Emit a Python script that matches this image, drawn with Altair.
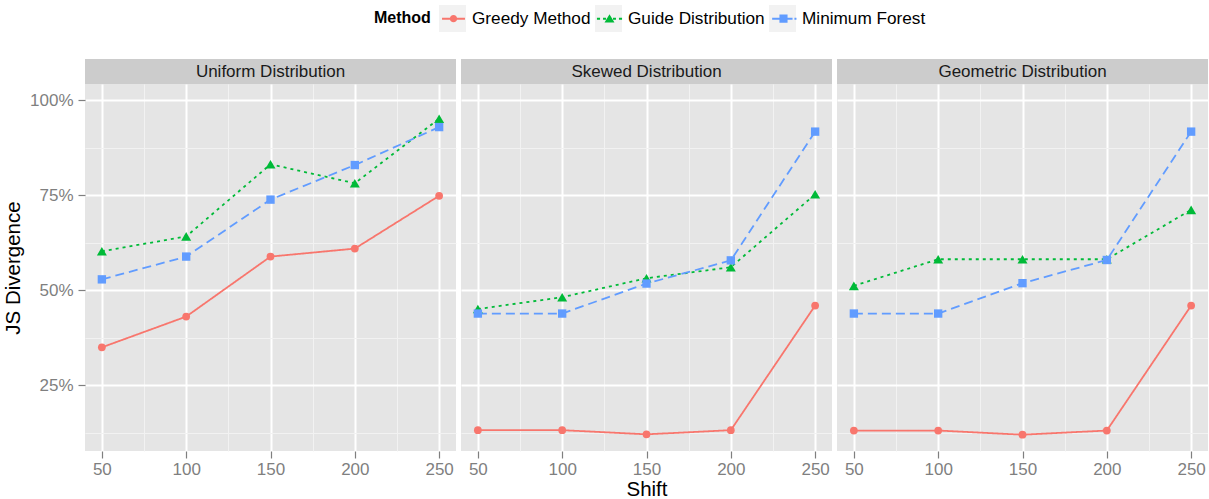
import altair as alt
import pandas as pd

shifts = [50, 100, 150, 200, 250]
methods = ["Greedy Method", "Guide Distribution", "Minimum Forest"]
panels = ["Uniform Distribution", "Skewed Distribution", "Geometric Distribution"]

uniform_greedy = [0.350, 0.431, 0.589, 0.610, 0.749]
uniform_guide = [0.603, 0.642, 0.832, 0.782, 0.952]
uniform_forest = [0.529, 0.589, 0.739, 0.830, 0.930]
skewed_greedy = [0.132, 0.132, 0.121, 0.132, 0.460]
skewed_guide = [0.451, 0.482, 0.532, 0.561, 0.753]
skewed_forest = [0.439, 0.439, 0.518, 0.579, 0.918]
geometric_greedy = [0.131, 0.131, 0.120, 0.131, 0.460]
geometric_guide = [0.512, 0.582, 0.582, 0.582, 0.712]
geometric_forest = [0.439, 0.439, 0.519, 0.580, 0.918]

x_major = [50, 100, 150, 200, 250]
x_minor = [75, 125, 175, 225]
y_major = [0.25, 0.5, 0.75, 1.0]
y_minor = [0.125, 0.375, 0.625, 0.875]

series = {
    "Uniform Distribution": [uniform_greedy, uniform_guide, uniform_forest],
    "Skewed Distribution": [skewed_greedy, skewed_guide, skewed_forest],
    "Geometric Distribution": [geometric_greedy, geometric_guide, geometric_forest],
}

rows = []
for p in panels:
    for m, vals in zip(methods, series[p]):
        for s, v in zip(shifts, vals):
            rows.append({"panel": p, "method": m, "shift": s, "value": v})
df = pd.DataFrame(rows)

colors = ["#F8766D", "#00BA38", "#619CFF"]
dashes = [[1, 0], [3, 4], [9, 5]]
shapes = ["circle", "triangle-up", "square"]
sizes = [60, 100, 70]

# legend key glyphs: line segments + marker, in the [-1, 1] symbol box
legend_paths = [
    "M-0.85,-0.075H0.85V0.075H-0.85Z"
    "M0.27,0A0.27,0.27 0 1,1 -0.27,0A0.27,0.27 0 1,1 0.27,0Z",
    "M-0.93,-0.075H-0.7V0.075H-0.93Z"
    "M-0.48,-0.075H-0.26V0.075H-0.48Z"
    "M0.26,-0.075H0.48V0.075H0.26Z"
    "M0.7,-0.075H0.93V0.075H0.7Z"
    "M0,-0.32L0.37,0.28L-0.37,0.28Z",
    "M-0.84,-0.075H0.67V0.075H-0.84Z"
    "M0.81,-0.075H0.96V0.075H0.81Z"
    "M-0.3,-0.3H0.3V0.3H-0.3Z",
]

FONT = "Liberation Sans"
GREY = "#7F7F7F"
PW, PH = 371, 367

xs = alt.Scale(domain=[40, 260], nice=False, zero=False)
ys = alt.Scale(domain=[0.0771, 1.0434], nice=False, zero=False)


def cond(minor, major_val, minor_val):
    return {"condition": {"test": f"indexof({minor}, datum.value) >= 0", "value": minor_val},
            "value": major_val}


def x_axis(title):
    kw = dict(values=x_major + x_minor,
              labelExpr=f"indexof({x_minor}, datum.value) >= 0 ? '' : datum.label",
              grid=True, gridColor=cond(x_minor, "#FFFFFF", "#F2F2F2"),
              gridWidth=cond(x_minor, 2, 1),
              tickColor=GREY, tickOpacity=cond(x_minor, 1, 0), tickSize=7, tickWidth=1.2,
              domain=False, labelFontSize=17, labelColor=GREY, labelPadding=3,
              labelFlush=False, labelFont=FONT,
              titleFontSize=20.5, titleFontWeight="normal", titleColor="#000000",
              titleFont=FONT, titlePadding=2)
    kw["title"] = title if title else None
    return alt.Axis(**kw)


def y_axis(first):
    kw = dict(values=y_major + y_minor, grid=True,
              gridColor=cond(y_minor, "#FFFFFF", "#F2F2F2"),
              gridWidth=cond(y_minor, 2, 1), domain=False)
    if first:
        kw.update(format=".0%",
                  labelExpr=f"indexof({y_minor}, datum.value) >= 0 ? '' : datum.label",
                  tickColor=GREY, tickOpacity=cond(y_minor, 1, 0), tickSize=7, tickWidth=1.2,
                  labelFontSize=17, labelColor=GREY, labelPadding=5, labelFont=FONT,
                  title="JS Divergence", titleFontSize=20.5, titleFontWeight="normal",
                  titleColor="#000000", titleFont=FONT, titlePadding=6)
    else:
        kw.update(labels=False, ticks=False, title=None)
    return alt.Axis(**kw)


LEG_X, LEG_Y = 289, -54
TITLE_W = 65  # width of the bold "Method" title plus its padding


def legend_common(x, with_title):
    d = dict(orient="none", legendX=x, legendY=LEG_Y, direction="horizontal",
             labelFontSize=17.2, labelFont=FONT,
             labelOffset=5, columnPadding=5, symbolSize=729, symbolStrokeWidth=0,
             symbolOpacity=1, padding=0, offset=0)
    if with_title:
        d.update(title="Method", titleOrient="left", titleAnchor="middle",
                 titleBaseline="line-top", titleLineHeight=5, titleFontSize=16,
                 titleFontWeight="bold", titleFont=FONT, titlePadding=9,
                 titleColor="#000000")
    else:
        d.update(title=None)
    return d


name_arr = "[" + ",".join(f"'{m}'" for m in methods) + "]"

panel_charts = []
for i, p in enumerate(panels):
    sub = df[df["panel"] == p]
    xenc = alt.X("shift:Q", scale=xs, axis=x_axis("Shift" if i == 1 else None))
    yenc = alt.Y("value:Q", scale=ys, axis=y_axis(i == 0))
    line = alt.Chart(sub).mark_line(strokeWidth=1.8).encode(
        x=xenc, y=yenc,
        color=alt.Color("method:N", scale=alt.Scale(domain=methods, range=colors), legend=None),
        strokeDash=alt.StrokeDash("method:N", scale=alt.Scale(domain=methods, range=dashes),
                                  legend=None),
    )
    layers = [line]
    for m, shp, sz in zip(methods, shapes, sizes):
        layers.append(
            alt.Chart(sub).transform_filter(alt.datum.method == m)
            .mark_point(filled=True, shape=shp, size=sz, opacity=1)
            .encode(x=xenc, y=yenc,
                    color=alt.Color("method:N", scale=alt.Scale(domain=methods, range=colors),
                                    legend=None))
        )
    if i == 0:
        bg_codes = ["k1", "k2", "k3"]
        fg_codes = ["g1", "g2", "g3"]
        bg_arr = "[" + ",".join(f"'{c}'" for c in bg_codes) + "]"
        fg_arr = "[" + ",".join(f"'{c}'" for c in fg_codes) + "]"
        key_bg = alt.Chart(sub).transform_calculate(
            bg="'k' + (indexof(" + name_arr + ", datum.method) + 1)"
        ).transform_filter("false").mark_point(filled=True, opacity=1, color="#F2F2F2").encode(
            x=xenc, y=yenc,
            size=alt.Size("bg:O", scale=alt.Scale(domain=bg_codes, range=[729, 729, 729]),
                          legend=alt.Legend(symbolType="square", symbolFillColor="#F2F2F2",
                                            labelColor="transparent",
                                            labelExpr=f"{name_arr}[indexof({bg_arr}, datum.value)]",
                                            zindex=0, **legend_common(LEG_X + TITLE_W, False))),
        )
        fg_leg = dict(labelColor="#000000",
                      labelExpr=f"{name_arr}[indexof({fg_arr}, datum.value)]",
                      zindex=1, **legend_common(LEG_X, True))
        key_fg = alt.Chart(sub).transform_calculate(
            fg="'g' + (indexof(" + name_arr + ", datum.method) + 1)"
        ).transform_filter("false").mark_point(filled=True, opacity=1).encode(
            x=xenc, y=yenc,
            fill=alt.Fill("fg:N", scale=alt.Scale(domain=fg_codes, range=colors),
                          legend=alt.Legend(**fg_leg)),
            shape=alt.Shape("fg:N", scale=alt.Scale(domain=fg_codes, range=legend_paths),
                            legend=alt.Legend(**fg_leg)),
        )
        layers += [key_bg, key_fg]
    plot = alt.layer(*layers).properties(
        width=PW, height=PH, view=alt.ViewBackground(fill="#E5E5E5", stroke=None))
    strip = alt.Chart(pd.DataFrame({"panel": [p]})).mark_text(
        fontSize=17, color="#1A1A1A", font=FONT).encode(text="panel:N").properties(
        width=PW, height=25, view=alt.ViewBackground(fill="#CCCCCC", stroke=None))
    panel_charts.append(alt.vconcat(strip, plot, spacing=0))

chart = alt.hconcat(*panel_charts, spacing=5).properties(
    padding={"left": 3, "top": 5, "right": 0, "bottom": 0}
).configure(font=FONT).configure_view(stroke=None)

chart.save("out.html", embed_options={"renderer": "svg", "actions": False})
